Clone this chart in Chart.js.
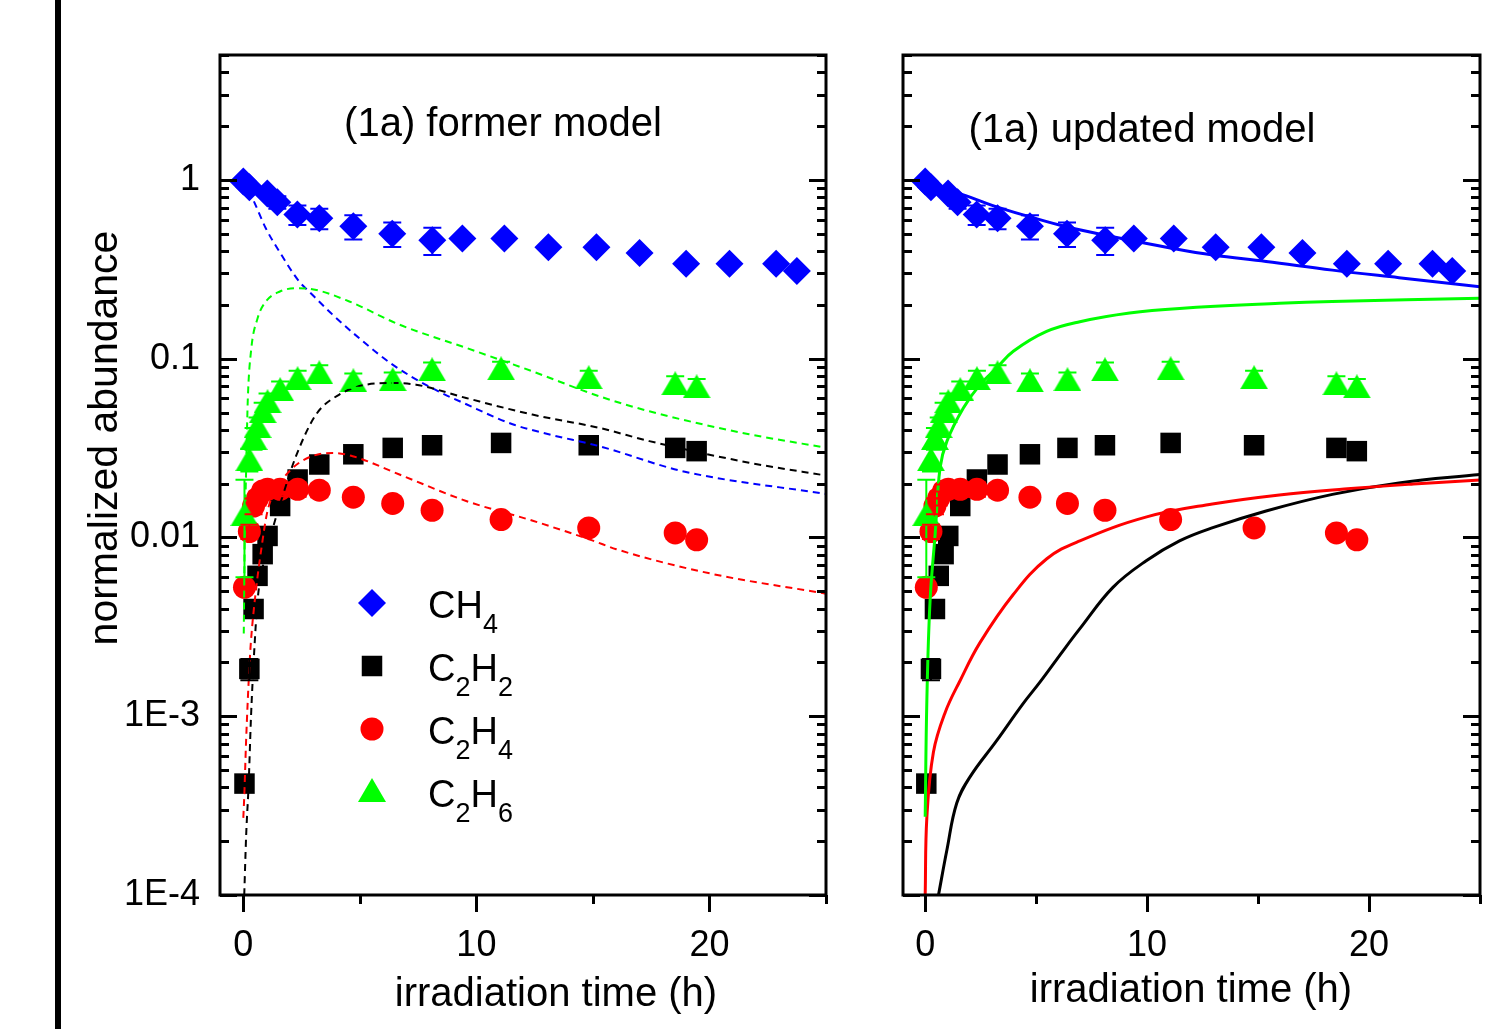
<!DOCTYPE html>
<html>
<head>
<meta charset="utf-8">
<title>normalized abundance vs irradiation time</title>
<script src="https://cdn.jsdelivr.net/npm/chart.js@4.4.1/dist/chart.umd.min.js"></script>
<style>
  html, body { margin: 0; padding: 0; background: #fff; overflow: hidden; }
  #wrap { position: relative; width: 1489px; height: 1029px; overflow: hidden; }
  #bar { position: absolute; left: 55px; top: 0; width: 6px; height: 1029px; background: #000; }
  #left { position: absolute; left: 0; top: 0; }
  #right { position: absolute; left: 860px; top: 0; }
</style>
</head>
<body>
<div id="wrap">
  <div id="bar"></div>
  <canvas id="left" width="860" height="1029"></canvas>
  <canvas id="right" width="650" height="1029"></canvas>
</div>
<script>
'use strict';

// ---- axis ticks ----
const yTickValues = [1e-4, 1e-3, 1e-2, 1e-1, 1];
const yTickLabels = ['1E-4', '1E-3', '0.01', '0.1', '1'];
const xTickValues = [0, 10, 20];
const xTickLabels = ['0', '10', '20'];

// ---- measured abundances ----
const tCH4 = [0, 0.26, 1.03, 1.46, 2.32, 3.26, 4.72, 6.39, 8.11, 9.4, 11.2, 13.09, 15.15, 17.0, 19.0, 20.86, 22.86, 23.75];
const ch4 = [0.98, 0.91, 0.84, 0.75, 0.64, 0.61, 0.55, 0.50, 0.46, 0.47, 0.47, 0.42, 0.42, 0.39, 0.34, 0.34, 0.34, 0.31];
const ch4Err = [0, 0, 0, 0.06, 0.08, 0.08, 0.085, 0.078, 0.08, 0, 0, 0, 0, 0, 0, 0, 0, 0];

const tC2 = [0.05, 0.26, 0.44, 0.61, 0.83, 1.04, 1.58, 2.33, 3.26, 4.72, 6.41, 8.1, 11.06, 14.82, 18.53, 19.45];
const c2h2 = [4.2e-4, 1.84e-3, 3.98e-3, 6.1e-3, 8.07e-3, 0.0102, 0.015, 0.0211, 0.0256, 0.0292, 0.0317, 0.0328, 0.0338, 0.0328, 0.0317, 0.0304];
const c2h2Err = [0, 2.5e-4, 0, 0, 0, 0, 0, 0, 0, 0, 0, 0, 0, 0, 0, 0];
const c2h4 = [5.26e-3, 0.0108, 0.015, 0.0166, 0.0182, 0.0186, 0.0186, 0.0186, 0.0184, 0.0168, 0.0155, 0.0142, 0.0126, 0.0113, 0.0106, 0.0097];
const c2h4Err = [0, 0.001, 0.0015, 0.0015, 0.0016, 0.0016, 0.0016, 0.0017, 0.0016, 0, 0, 0, 0, 0, 0, 0];
const c2h6 = [0.0135, 0.0274, 0.036, 0.0419, 0.0508, 0.0578, 0.0675, 0.0777, 0.0839, 0.0757, 0.0767, 0.0872, 0.0883, 0.0787, 0.0728, 0.07];
const c2h6Err = [0.0075, 0.004, 0.005, 0.005, 0.006, 0.006, 0.007, 0.008, 0.008, 0.007, 0.007, 0.008, 0.008, 0.007, 0.007, 0.007];

// ---- former model (dashed, left panel) ----
const tFormerCH4 = [0, 0.4, 0.97, 1.55, 2.4, 2.83, 3.82, 4.98, 6.39, 8.11, 9.57, 11.55, 13.1, 15.28, 18.84, 25];
const formerCH4 = [1.0, 0.787, 0.535, 0.397, 0.27, 0.237, 0.177, 0.13, 0.093, 0.0683, 0.0556, 0.043, 0.0378, 0.0324, 0.0235, 0.0175];
const tFormerC2H2 = [0.04, 0.12, 0.23, 0.33, 0.47, 0.61, 0.83, 1.19, 1.69, 2.26, 3.12, 4.12, 5.27, 6.41, 7.41, 9.56, 12.4, 15.28, 17.42, 21.7, 25];
const formerC2H2 = [1e-4, 2.12e-4, 4.2e-4, 9.9e-4, 2.33e-3, 4.43e-3, 6.8e-3, 0.0104, 0.0171, 0.0285, 0.0487, 0.063, 0.0716, 0.0731, 0.0716, 0.0603, 0.0487, 0.041, 0.0346, 0.0262, 0.0222];
const tFormerC2H4 = [0, 0.04, 0.12, 0.26, 0.33, 0.54, 0.76, 1.04, 1.55, 2.4, 3.83, 4.69, 6.7, 9.56, 12.42, 15, 16, 20, 25];
const formerC2H4 = [2.7e-4, 3.54e-4, 7.3e-4, 1.88e-3, 2.65e-3, 5.04e-3, 8.4e-3, 0.0141, 0.0198, 0.0262, 0.0297, 0.0285, 0.0225, 0.016, 0.0124, 9.6e-3, 8.6e-3, 6.3e-3, 4.85e-3];
const tFormerC2H6 = [0.02, 0.06, 0.13, 0.19, 0.33, 0.61, 0.97, 1.55, 2.26, 2.96, 4.55, 6.7, 9.56, 12.4, 15.28, 17.42, 21.7, 25];
const formerC2H6 = [2.9e-3, 9.6e-3, 0.0267, 0.0578, 0.11, 0.168, 0.209, 0.237, 0.248, 0.245, 0.209, 0.155, 0.115, 0.085, 0.0616, 0.0508, 0.0378, 0.0318];

// ---- updated model (solid, right panel) ----
const tUpdCH4 = [0, 0.5, 1.57, 3.22, 4.72, 6.37, 8.46, 11.16, 12.96, 15.36, 18.35, 21.35, 25];
const updCH4 = [1.0, 0.93, 0.839, 0.707, 0.622, 0.547, 0.481, 0.414, 0.38, 0.35, 0.313, 0.284, 0.253];
const tUpdC2H2 = [0.6, 0.98, 1.42, 2.02, 3.22, 4.42, 5.17, 6.22, 6.97, 8.46, 9.96, 11.46, 12.96, 15.36, 18.35, 21.35, 25];
const updC2H2 = [1e-4, 1.79e-4, 3.26e-4, 4.58e-4, 7.3e-4, 1.18e-3, 1.55e-3, 2.33e-3, 3.09e-3, 5.26e-3, 7.41e-3, 9.57e-3, 0.01135, 0.01407, 0.01742, 0.0202, 0.0225];
const tUpdC2H4 = [0, 0.076, 0.37, 0.9, 1.57, 2.47, 3.96, 5.48, 6.97, 9.98, 12.94, 15.96, 18.88, 22.0, 25];
const updC2H4 = [1e-4, 2.73e-4, 6.29e-4, 1.05e-3, 1.58e-3, 2.58e-3, 4.78e-3, 7.6e-3, 9.57e-3, 0.01303, 0.01539, 0.0173, 0.01867, 0.0199, 0.02095];
const tUpdC2H6 = [0, 0.075, 0.22, 0.45, 0.67, 0.98, 1.72, 2.47, 3.22, 3.97, 5.47, 6.97, 9.21, 11.46, 15.96, 18.34, 25];
const updC2H6 = [2.74e-4, 1.23e-3, 4.43e-3, 0.0105, 0.0245, 0.0346, 0.053, 0.0716, 0.0887, 0.11, 0.142, 0.161, 0.18, 0.191, 0.204, 0.209, 0.218];

const species = ['CH4', 'C2H2', 'C2H4', 'C2H6'];

// ---- styling ----
const FONT = '"Liberation Sans", Arial, Helvetica, sans-serif';
const BLUE = '#0000ff', BLACK = '#000000', RED = '#ff0000', GREEN = '#00ff00';
const colorOf = { CH4: BLUE, C2H2: BLACK, C2H4: RED, C2H6: GREEN };

// triangle centred on its bounding box, like the original symbol
function triangleImage(color, w, h) {
  const c = document.createElement('canvas');
  c.width = w; c.height = h;
  const g = c.getContext('2d');
  g.fillStyle = color;
  g.beginPath();
  g.moveTo(w / 2, 0); g.lineTo(w, h); g.lineTo(0, h);
  g.closePath();
  g.fill();
  return c;
}
const triImg = triangleImage(GREEN, 28, 24);

const markerOf = {
  CH4: { style: 'rectRot', r: 14 },
  C2H2: { style: 'rect', r: 14.5 },
  C2H4: { style: 'circle', r: 11.5 },
  C2H6: { style: triImg, r: 14 }
};

const pts = (xs, ys) => xs.map((x, i) => ({ x: x, y: ys[i] }));

function markerSet(name, xs, ys, errs) {
  const m = markerOf[name];
  return {
    label: name,
    data: pts(xs, ys),
    errors: errs,
    showLine: false,
    pointStyle: m.style,
    pointRadius: m.r,
    pointBorderWidth: 0,
    backgroundColor: colorOf[name],
    borderColor: colorOf[name]
  };
}

function modelLine(name, xs, ys, dashed) {
  const ds = {
    label: name + ' model',
    data: pts(xs, ys),
    showLine: true,
    pointRadius: 0,
    borderColor: colorOf[name],
    borderWidth: dashed ? 2 : 3,
    borderDash: dashed ? [7, 5] : [],
    fill: false
  };
  if (dashed) ds.cubicInterpolationMode = 'monotone';
  else ds.tension = 0.4;
  return ds;
}

function drawMarker(ctx, name, x, y) {
  const m = markerOf[name];
  const r = m.r;
  if (typeof m.style !== 'string') {
    ctx.drawImage(m.style, x - m.style.width / 2, y - m.style.height / 2);
    return;
  }
  ctx.fillStyle = colorOf[name];
  ctx.beginPath();
  if (m.style === 'circle') {
    ctx.arc(x, y, r, 0, Math.PI * 2);
  } else if (m.style === 'rect') {
    const s = r * Math.SQRT1_2;
    ctx.rect(x - s, y - s, 2 * s, 2 * s);
  } else if (m.style === 'rectRot') {
    ctx.moveTo(x - r, y); ctx.lineTo(x, y - r); ctx.lineTo(x + r, y); ctx.lineTo(x, y + r);
  }
  ctx.closePath();
  ctx.fill();
}

// chemical formula with subscript digits
function chemText(ctx, text, x, baseline) {
  let cx = x;
  for (const ch of text) {
    const sub = /[0-9]/.test(ch);
    ctx.font = (sub ? 27 : 38) + 'px ' + FONT;
    ctx.fillText(ch, cx, sub ? baseline + 15 : baseline);
    cx += ctx.measureText(ch).width;
  }
}

// axes frame with inward y ticks and outward x ticks
const framePlugin = {
  id: 'frame',
  afterDraw(chart) {
    const { ctx, chartArea: a } = chart;
    const xs = chart.scales.x, ys = chart.scales.y;
    ctx.save();
    ctx.strokeStyle = '#000';
    ctx.lineWidth = 3;
    ctx.lineCap = 'butt';
    ctx.beginPath();
    for (let d = -4; d <= 0; d++) {
      for (let m = 1; m <= 9; m++) {
        const v = m * Math.pow(10, d);
        if (v > ys.max) break;
        const py = Math.round(ys.getPixelForValue(v)) + 0.5;
        const len = m === 1 ? 17 : 9;
        ctx.moveTo(a.left, py); ctx.lineTo(a.left + len, py);
        ctx.moveTo(a.right, py); ctx.lineTo(a.right - len, py);
      }
    }
    for (let t = 0; t <= 25; t += 5) {
      const px = Math.round(xs.getPixelForValue(t)) + 0.5;
      const len = t % 10 === 0 ? 17 : 9;
      ctx.moveTo(px, a.bottom); ctx.lineTo(px, a.bottom + len);
    }
    ctx.stroke();
    ctx.strokeRect(a.left, a.top, a.right - a.left, a.bottom - a.top);
    ctx.restore();
  }
};

// vertical error bars with caps
const errorPlugin = {
  id: 'errorBars',
  afterDatasetsDraw(chart) {
    const { ctx, chartArea: a } = chart;
    const xs = chart.scales.x, ys = chart.scales.y;
    ctx.save();
    ctx.beginPath();
    ctx.rect(a.left, a.top, a.right - a.left, a.bottom - a.top);
    ctx.clip();
    ctx.lineWidth = 2;
    chart.data.datasets.forEach(ds => {
      if (!ds.errors) return;
      ctx.strokeStyle = ds.borderColor;
      ds.data.forEach((p, i) => {
        const e = ds.errors[i];
        if (!e) return;
        const px = xs.getPixelForValue(p.x);
        const top = ys.getPixelForValue(p.y + e);
        const bot = ys.getPixelForValue(Math.max(p.y - e, 1e-6));
        ctx.beginPath();
        ctx.moveTo(px, top); ctx.lineTo(px, bot);
        ctx.moveTo(px - 9, top); ctx.lineTo(px + 9, top);
        ctx.moveTo(px - 9, bot); ctx.lineTo(px + 9, bot);
        ctx.stroke();
      });
    });
    ctx.restore();
  }
};

function makeScales(showYLabels, yWidth) {
  return {
    x: {
      type: 'linear',
      min: -1,
      max: 25,
      afterBuildTicks: s => { s.ticks = xTickValues.map(v => ({ value: v })); },
      afterFit: s => { s.height = 134; },
      grid: { display: false, drawTicks: false },
      border: { display: false },
      ticks: {
        padding: 29,
        color: '#000',
        font: { family: FONT, size: 36 },
        callback: v => xTickLabels[xTickValues.indexOf(v)]
      }
    },
    y: {
      type: 'logarithmic',
      min: 1e-4,
      max: 5,
      afterBuildTicks: s => { s.ticks = yTickValues.map(v => ({ value: v })); },
      afterFit: s => { s.width = yWidth; },
      grid: { display: false, drawTicks: false },
      border: { display: false },
      ticks: {
        display: showYLabels,
        padding: 20,
        color: '#000',
        font: { family: FONT, size: 36 },
        callback: v => yTickLabels[yTickValues.indexOf(v)]
      }
    }
  };
}

const common = {
  responsive: false,
  animation: false,
  devicePixelRatio: 1,
  events: [],
  plugins: { legend: { display: false }, tooltip: { enabled: false } }
};

// ---- left panel: former model ----
new Chart(document.getElementById('left'), {
  type: 'scatter',
  data: {
    datasets: [
      modelLine('C2H6', tFormerC2H6, formerC2H6, true),
      modelLine('C2H4', tFormerC2H4, formerC2H4, true),
      modelLine('C2H2', tFormerC2H2, formerC2H2, true),
      modelLine('CH4', tFormerCH4, formerCH4, true),
      markerSet('C2H6', tC2, c2h6, c2h6Err),
      markerSet('C2H4', tC2, c2h4, c2h4Err),
      markerSet('C2H2', tC2, c2h2, c2h2Err),
      markerSet('CH4', tCH4, ch4, ch4Err)
    ]
  },
  options: Object.assign({}, common, {
    layout: { padding: { left: 0, right: 34, top: 55, bottom: 0 } },
    scales: makeScales(true, 220)
  }),
  plugins: [errorPlugin, framePlugin, {
    id: 'leftText',
    afterDraw(chart) {
      const ctx = chart.ctx;
      ctx.save();
      ctx.fillStyle = '#000';
      ctx.textAlign = 'center';
      ctx.textBaseline = 'alphabetic';
      ctx.font = '40px ' + FONT;
      ctx.fillText('(1a) former model', 503, 136);
      ctx.fillText('irradiation time (h)', 556, 1006);
      ctx.save();
      ctx.translate(117, 438);
      ctx.rotate(-Math.PI / 2);
      ctx.font = '41px ' + FONT;
      ctx.fillText('normalized abundance', 0, 0);
      ctx.restore();
      // legend
      ctx.textAlign = 'left';
      species.forEach((name, i) => {
        const cy = 603 + i * 63;
        drawMarker(ctx, name, 372, name === 'C2H6' ? cy - 2 : cy);
        ctx.fillStyle = '#000';
        chemText(ctx, name, 428, cy + 15);
      });
      ctx.restore();
    }
  }]
});

// ---- right panel: updated model ----
new Chart(document.getElementById('right'), {
  type: 'scatter',
  data: {
    datasets: [
      modelLine('C2H6', tUpdC2H6, updC2H6, false),
      modelLine('C2H4', tUpdC2H4, updC2H4, false),
      modelLine('C2H2', tUpdC2H2, updC2H2, false),
      modelLine('CH4', tUpdCH4, updCH4, false),
      markerSet('C2H6', tC2, c2h6, c2h6Err),
      markerSet('C2H4', tC2, c2h4, c2h4Err),
      markerSet('C2H2', tC2, c2h2, c2h2Err),
      markerSet('CH4', tCH4, ch4, ch4Err)
    ]
  },
  options: Object.assign({}, common, {
    layout: { padding: { left: 0, right: 30, top: 55, bottom: 0 } },
    scales: makeScales(false, 43)
  }),
  plugins: [errorPlugin, framePlugin, {
    id: 'rightText',
    afterDraw(chart) {
      const ctx = chart.ctx;
      ctx.save();
      ctx.fillStyle = '#000';
      ctx.textAlign = 'center';
      ctx.textBaseline = 'alphabetic';
      ctx.font = '40px ' + FONT;
      ctx.fillText('(1a) updated model', 282, 142);
      ctx.fillText('irradiation time (h)', 331, 1002);
      ctx.restore();
    }
  }]
});
</script>
</body>
</html>
